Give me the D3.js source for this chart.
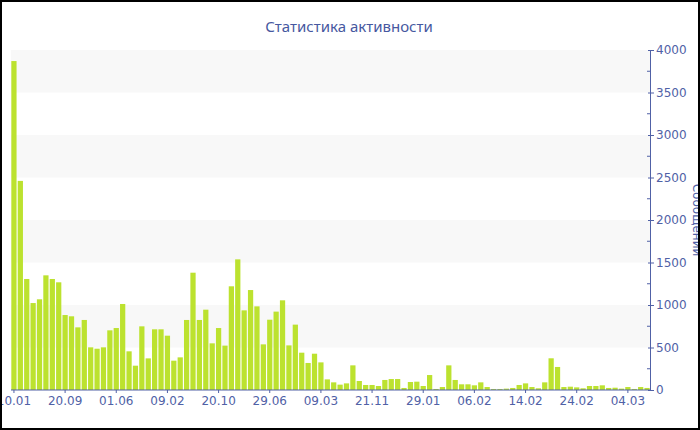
<!DOCTYPE html>
<html>
<head>
<meta charset="utf-8">
<script src="https://cdn.jsdelivr.net/npm/d3@7"></script>
<style>
  body { margin: 0; background: #fff; }
  svg { display: block; font-family: "DejaVu Sans", Verdana, sans-serif; }
</style>
</head>
<body>
<svg id="chart"></svg>
<script>
// messages per period
const values = [3870, 2460, 1306, 1023, 1067, 1349, 1306, 1267, 882, 867,
    737, 824, 502, 486, 502, 702, 729, 1012, 455, 286,
    749, 372, 714, 714, 639, 345, 384, 824, 1380, 824,
    945, 549, 729, 522, 1220, 1537, 937, 1176, 984, 537,
    827, 922, 1055, 525, 769, 439, 318, 427, 325, 125,
    90, 63, 78, 290, 106, 59, 59, 47, 118, 129,
    129, 24, 94, 98, 47, 176, 12, 35, 290, 118,
    67, 67, 55, 90, 35, 12, 12, 16, 24, 59,
    78, 35, 20, 90, 373, 271, 35, 39, 31, 20,
    47, 47, 55, 24, 27, 16, 35, 12, 35, 24];

// one label on every 8th bar
const tickLabels = ["10.01", "20.09", "01.06", "09.02", "20.10", "29.06", "09.03",
    "21.11", "29.01", "06.02", "14.02", "24.02", "04.03"];
const tickEvery = 8;

const yMajor = [0, 500, 1000, 1500, 2000, 2500, 3000, 3500, 4000];
const yMinor = [250, 750, 1250, 1750, 2250, 2750, 3250, 3750];
const bands = [[500, 1000], [1500, 2000], [2500, 3000], [3500, 4000]];

const width = 700, height = 430;
const plotLeft = 11, plotRight = 650, plotTop = 50, plotBottom = 390;
const axisColor = "#5061a6";

var svg = d3.select("#chart").attr("width", width).attr("height", height);

const x = d3.scaleBand()
    .domain(d3.range(values.length))
    .range([plotLeft, plotRight])
    .paddingInner(0.18)
    .paddingOuter(0.05);

const y = d3.scaleLinear().domain([0, 4000]).range([plotBottom, plotTop]);

// alternating background bands
svg.append("g").selectAll("rect")
    .data(bands)
    .enter().append("rect")
    .attr("x", plotLeft)
    .attr("width", plotRight - plotLeft)
    .attr("y", d => y(d[1]))
    .attr("height", d => y(d[0]) - y(d[1]))
    .style("fill", "#f8f8f8");

// title
svg.append("text")
    .attr("x", 349)
    .attr("y", 32)
    .attr("text-anchor", "middle")
    .style("font-family", "Noto Sans, sans-serif")
    .style("font-size", "15px")
    .style("fill", "#4658a0")
    .text("Статистика активности");

// bars
svg.append("g").selectAll(".bar")
    .data(values)
    .enter().append("rect")
    .attr("class", "bar")
    .attr("x", (d, i) => x(i))
    .attr("width", x.bandwidth())
    .attr("y", d => y(d))
    .attr("height", d => y(0) - y(d))
    .style("fill", "#bce22f");

// x axis
const xAxis = d3.axisBottom(x)
    .tickValues(d3.range(0, values.length, tickEvery))
    .tickFormat(i => tickLabels[i / tickEvery])
    .tickSize(3)
    .tickSizeOuter(0)
    .tickPadding(3);

const gx = svg.append("g")
    .attr("transform", "translate(0," + plotBottom + ")")
    .call(xAxis);
gx.select(".domain").attr("d", `M${plotLeft},0H${plotRight}`);

// y axis on the right, major ticks cross the line
const yAxis = d3.axisRight(y)
    .tickValues(yMajor)
    .tickFormat(d3.format("d"))
    .tickSize(4)
    .tickSizeOuter(0)
    .tickPadding(2);

const gy = svg.append("g")
    .attr("transform", "translate(" + plotRight + ",0)")
    .call(yAxis);
gy.selectAll(".tick line").attr("x1", -2);

gy.selectAll(".minor")
    .data(yMinor)
    .enter().append("line")
    .attr("class", "minor")
    .attr("x1", -3).attr("x2", 0)
    .attr("y1", d => y(d)).attr("y2", d => y(d));

[gx, gy].forEach(g => {
    g.selectAll("path, line").style("stroke", axisColor);
    g.selectAll("text")
        .style("fill", axisColor)
        .style("font-family", "DejaVu Sans, Verdana, sans-serif")
        .style("font-size", "12px");
});

// y axis title
svg.append("text")
    .attr("transform", "translate(693,220) rotate(90)")
    .attr("text-anchor", "middle")
    .style("font-size", "12px")
    .style("fill", axisColor)
    .text("Сообщений");

// frame
svg.append("rect")
    .attr("x", 1).attr("y", 1)
    .attr("width", 698).attr("height", 428)
    .style("fill", "none")
    .style("stroke", "#000")
    .style("stroke-width", 2);
</script>
</body>
</html>
